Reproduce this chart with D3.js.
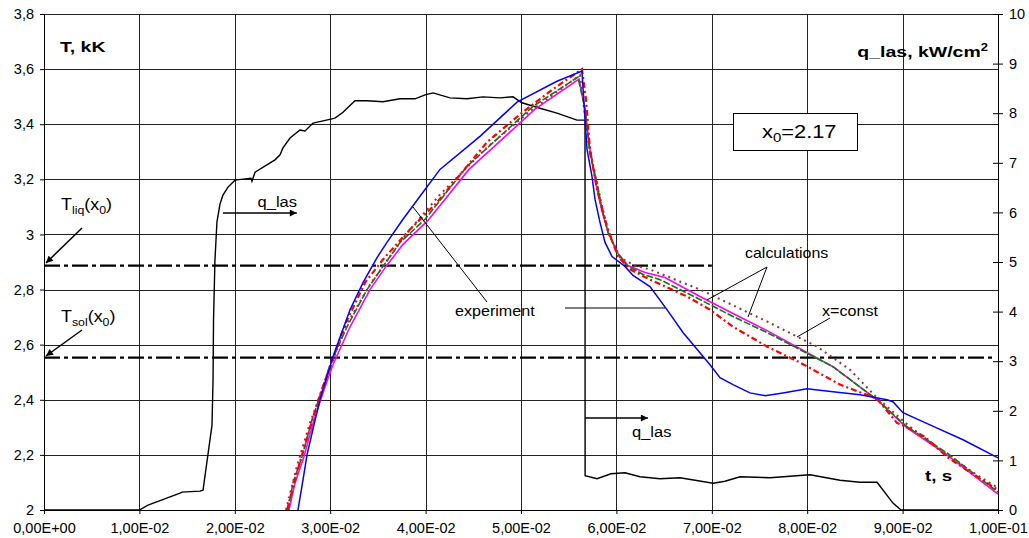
<!DOCTYPE html>
<html>
<head>
<meta charset="utf-8">
<script src="https://cdn.jsdelivr.net/npm/d3@7"></script>
<style>
	body { margin: 0; background: #fff; }
	svg { display: block; font-family: "Liberation Sans", Arial, sans-serif; }
</style>
</head>
<body>
<div class="chart"></div>
<script>
// t in s, T in kK, q in kW/cm2
const tTicks = [0, 0.01, 0.02, 0.03, 0.04, 0.05, 0.06, 0.07, 0.08, 0.09, 0.1];
const TTicks = [2, 2.2, 2.4, 2.6, 2.8, 3, 3.2, 3.4, 3.6, 3.8];
const qTicks = [0, 1, 2, 3, 4, 5, 6, 7, 8, 9, 10];
const Tliq = 2.887;
const Tsol = 2.553;

const experiment = [
	[0.02662, 2.0], [0.02715, 2.109], [0.02757, 2.2], [0.0283, 2.309], [0.02893, 2.4],
	[0.03029, 2.556], [0.03208, 2.727], [0.03344, 2.825], [0.03491, 2.916], [0.03595, 2.971],
	[0.03763, 3.055], [0.03955, 3.145], [0.04151, 3.236], [0.0457, 3.356], [0.04958, 3.48],
	[0.05377, 3.556], [0.05639, 3.593], [0.05671, 3.418], [0.05692, 3.309], [0.05744, 3.211],
	[0.05776, 3.127], [0.05828, 3.044], [0.05881, 2.971], [0.05954, 2.92], [0.0609, 2.884],
	[0.06174, 2.851], [0.06352, 2.811], [0.0653, 2.727], [0.06698, 2.644], [0.06876, 2.571],
	[0.06981, 2.527], [0.07086, 2.48], [0.07222, 2.455], [0.074, 2.425], [0.07558, 2.415],
	[0.07746, 2.425], [0.07998, 2.44], [0.0827, 2.429], [0.08553, 2.418], [0.08836, 2.4],
	[0.08899, 2.393], [0.09004, 2.353], [0.09287, 2.309], [0.09633, 2.255], [0.1, 2.189]
];
const calcGreen = [
	[0.02558, 2.0], [0.0261, 2.098], [0.02704, 2.193], [0.02809, 2.327], [0.02914, 2.436],
	[0.02998, 2.527], [0.03176, 2.665], [0.03386, 2.8], [0.03553, 2.884], [0.03732, 2.971],
	[0.03994, 3.055], [0.04434, 3.247], [0.0478, 3.356], [0.05126, 3.465], [0.05597, 3.571],
	[0.05671, 3.455], [0.05723, 3.291], [0.05797, 3.189], [0.05849, 3.091], [0.05912, 3.007],
	[0.06006, 2.935], [0.06111, 2.887], [0.06279, 2.855], [0.06457, 2.836], [0.06876, 2.764],
	[0.07222, 2.702], [0.07579, 2.644], [0.07925, 2.582], [0.0827, 2.52], [0.08732, 2.4],
	[0.09046, 2.302], [0.09465, 2.207], [0.1, 2.065]
];
const calcMagenta = [
	[0.02568, 2.0], [0.02631, 2.098], [0.02725, 2.193], [0.0283, 2.327], [0.02935, 2.436],
	[0.03029, 2.527], [0.03208, 2.665], [0.03417, 2.8], [0.03585, 2.884], [0.03763, 2.964],
	[0.04025, 3.051], [0.04455, 3.236], [0.04801, 3.345], [0.05147, 3.455], [0.05608, 3.564],
	[0.05671, 3.455], [0.05723, 3.309], [0.05786, 3.182], [0.05849, 3.084], [0.05922, 3.0],
	[0.06017, 2.931], [0.06122, 2.887], [0.063, 2.862], [0.06509, 2.844], [0.06876, 2.775],
	[0.07222, 2.713], [0.07579, 2.651], [0.07925, 2.585], [0.0827, 2.52], [0.08732, 2.4],
	[0.09046, 2.298], [0.09465, 2.2], [0.1, 2.058]
];
const calcRed = [
	[0.02547, 2.0], [0.02683, 2.175], [0.02893, 2.418], [0.03155, 2.673], [0.03365, 2.825],
	[0.03553, 2.909], [0.03805, 3.007], [0.04119, 3.116], [0.04644, 3.335], [0.0499, 3.436],
	[0.05335, 3.527], [0.05639, 3.6], [0.05681, 3.491], [0.05723, 3.309], [0.05797, 3.164],
	[0.05901, 3.029], [0.06017, 2.92], [0.06143, 2.873], [0.06352, 2.836], [0.0674, 2.775],
	[0.06981, 2.727], [0.07222, 2.665], [0.07579, 2.593], [0.07925, 2.535], [0.08344, 2.455],
	[0.08732, 2.404], [0.08941, 2.316], [0.09078, 2.295], [0.09235, 2.265], [0.09465, 2.193],
	[0.0978, 2.12], [0.1, 2.073]
];
const calcBrown = [
	[0.02537, 2.0], [0.02652, 2.16], [0.02788, 2.316], [0.02945, 2.465], [0.03155, 2.662],
	[0.03417, 2.818], [0.03784, 2.996], [0.04151, 3.145], [0.04644, 3.316], [0.05094, 3.447],
	[0.05618, 3.578], [0.05702, 3.345], [0.05797, 3.182], [0.05912, 3.011], [0.06038, 2.916],
	[0.06195, 2.887], [0.06352, 2.873], [0.06876, 2.8], [0.07579, 2.684], [0.08103, 2.593],
	[0.08449, 2.509], [0.08732, 2.407], [0.09078, 2.302], [0.09465, 2.2], [0.0978, 2.127],
	[0.1, 2.08]
];
const qLas = [
	[0, 0], [0.01, 0], [0.0109, 0.1], [0.01426, 0.34], [0.01447, 0.36], [0.01635, 0.38],
	[0.01667, 0.4], [0.01761, 1.71], [0.01772, 2.62], [0.01777, 3.83], [0.01792, 5.04],
	[0.01813, 5.81], [0.01845, 6.17], [0.01876, 6.35], [0.01929, 6.51], [0.02002, 6.65],
	[0.0217, 6.69], [0.0218, 6.63], [0.02212, 6.81], [0.02421, 7.06], [0.02474, 7.16],
	[0.02505, 7.3], [0.02579, 7.5], [0.02683, 7.66], [0.02736, 7.64], [0.0282, 7.8],
	[0.02914, 7.84], [0.0305, 7.9], [0.03134, 8.02], [0.0326, 8.25], [0.03386, 8.25],
	[0.03553, 8.23], [0.03732, 8.29], [0.03889, 8.29], [0.03994, 8.37], [0.04078, 8.41],
	[0.04256, 8.31], [0.04434, 8.29], [0.04602, 8.33], [0.0478, 8.31], [0.04916, 8.33],
	[0.0501, 8.21], [0.05199, 8.1], [0.05377, 8.0], [0.05587, 7.86], [0.05671, 7.86],
	[0.05672, 0.69], [0.05797, 0.63], [0.05943, 0.73], [0.0609, 0.75], [0.06247, 0.67],
	[0.06457, 0.63], [0.06667, 0.65], [0.07013, 0.54], [0.07138, 0.58], [0.07296, 0.67],
	[0.0761, 0.65], [0.08029, 0.71], [0.08344, 0.6], [0.08553, 0.56], [0.08732, 0.56],
	[0.08899, 0.14], [0.08983, 0], [0.1, 0]
];

const width = 1029;
const height = 538;
const margin = { top: 14, right: 31, bottom: 28, left: 44 };

const x = d3.scaleLinear().domain([0, 0.1]).range([margin.left, width - margin.right]);
const y = d3.scaleLinear().domain([2, 3.8]).range([height - margin.bottom, margin.top]);
const yq = d3.scaleLinear().domain([0, 10]).range([height - margin.bottom, margin.top]);

const svg = d3.create("svg").attr("width", width).attr("height", height);

svg.append("defs")
	.append("marker")
	.attr("id", "arr")
	.attr("viewBox", "0 0 10 10")
	.attr("refX", 10)
	.attr("refY", 5)
	.attr("markerWidth", 8)
	.attr("markerHeight", 7)
	.attr("markerUnits", "userSpaceOnUse")
	.attr("orient", "auto")
	.append("path")
	.attr("d", "M0,0L10,5L0,10z")
	.attr("fill", "#000");

const fmtT = (d) => (d === 2 || d === 3 ? String(d) : d3.format(".1f")(d).replace(".", ","));
const fmtX = (d) => d.toExponential(2).replace(".", ",").replace(/e([+-])(\d)$/, "E$10$2").toUpperCase();

// grid
const grid = svg.append("g").attr("stroke", "#222").attr("stroke-width", 1);
grid.selectAll("line.h")
	.data(TTicks)
	.join("line")
	.attr("x1", x(0))
	.attr("x2", x(0.1))
	.attr("y1", (d) => Math.round(y(d)) + 0.5)
	.attr("y2", (d) => Math.round(y(d)) + 0.5);
grid.selectAll("line.v")
	.data(tTicks)
	.join("line")
	.attr("x1", (d) => Math.round(x(d)) + 0.5)
	.attr("x2", (d) => Math.round(x(d)) + 0.5)
	.attr("y1", y(3.8))
	.attr("y2", y(2));

// axes
const axL = svg.append("g")
	.attr("transform", `translate(${x(0)},0)`)
	.call(d3.axisLeft(y).tickValues(TTicks).tickFormat(fmtT).tickSize(4).tickPadding(6));
const axB = svg.append("g")
	.attr("transform", `translate(0,${y(2)})`)
	.call(d3.axisBottom(x).tickValues(tTicks).tickFormat(fmtX).tickSize(4).tickPadding(9));
const axR = svg.append("g")
	.attr("transform", `translate(${x(0.1)},0)`)
	.call(d3.axisRight(yq).tickValues(qTicks).tickSize(5).tickPadding(6));
axR.selectAll(".tick line").attr("x1", -5);
[axL, axB, axR].forEach((a) => {
	a.selectAll("text").attr("font-size", 14.5).attr("fill", "#000").attr("font-family", "Liberation Sans, Arial, sans-serif");
	a.select(".domain").attr("stroke", "#000");
	a.selectAll(".tick line").attr("stroke", "#000");
});

// reference dash-dot lines
const refDash = "16,4,4,4";
svg.append("line")
	.attr("x1", x(0)).attr("x2", x(0.07))
	.attr("y1", y(Tliq)).attr("y2", y(Tliq))
	.attr("stroke", "#000").attr("stroke-width", 2.4).attr("stroke-dasharray", refDash);
svg.append("line")
	.attr("x1", x(0)).attr("x2", x(0.0995))
	.attr("y1", y(Tsol)).attr("y2", y(Tsol))
	.attr("stroke", "#000").attr("stroke-width", 2.4).attr("stroke-dasharray", refDash);

// curves
const lineT = d3.line().x((d) => x(d[0])).y((d) => y(d[1]));
const lineQ = d3.line().x((d) => x(d[0])).y((d) => yq(d[1]));

svg.append("path").datum(qLas).attr("d", lineQ)
	.attr("fill", "none").attr("stroke", "#000").attr("stroke-width", 1.4);

const series = [
	{ data: calcMagenta, color: "#ff00ff", w: 1.6, dash: null },
	{ data: calcGreen, color: "#008000", w: 1.6, dash: "7,2" },
	{ data: calcBrown, color: "#993333", w: 2, dash: "2,4" },
	{ data: calcRed, color: "#ff0000", w: 2.2, dash: "6,3,2,3" },
	{ data: experiment, color: "#0000ff", w: 1.5, dash: null }
];
svg.append("g")
	.selectAll("path")
	.data(series)
	.join("path")
	.attr("d", (d) => lineT(d.data))
	.attr("fill", "none")
	.attr("stroke", (d) => d.color)
	.attr("stroke-width", (d) => d.w)
	.attr("stroke-dasharray", (d) => d.dash);

// annotations
const ann = svg.append("g").attr("fill", "#000");
const label = (px, py, size, sx, anchor) =>
	ann.append("text")
		.attr("transform", `translate(${px},${py}) scale(${sx},1)`)
		.attr("font-size", size)
		.attr("text-anchor", anchor || "start");
const arrow = (x1, y1, x2, y2, head) => {
	const l = svg.append("line")
		.attr("x1", x1).attr("y1", y1).attr("x2", x2).attr("y2", y2)
		.attr("stroke", "#000").attr("stroke-width", head ? 1.5 : 1);
	if (head) l.attr("marker-end", "url(#arr)");
};
const withSub = (t, parts, small) => {
	parts.forEach(([s, isSub]) => {
		const sp = t.append("tspan").text(s);
		if (isSub === 1) sp.attr("font-size", small).attr("dy", 4);
		if (isSub === -1) sp.attr("dy", -4);
	});
};

label(60, 52, 15, 1.3).attr("font-weight", "bold").text("T, kK");
label(988, 57, 15, 1.3, "end").attr("font-weight", "bold")
	.call((t) => {
		t.append("tspan").text("q_las, kW/cm");
		t.append("tspan").attr("font-size", 10).attr("dy", -6).text("2");
	});
label(925, 481, 15, 1.25).attr("font-weight", "bold").text("t, s");

label(61, 210, 16, 1.12).call((t) => withSub(t, [["T", 0], ["liq", 1], ["(x", -1], ["0", 1], [")", -1]], 11));
label(61, 322, 16, 1.12).call((t) => withSub(t, [["T", 0], ["sol", 1], ["(x", -1], ["0", 1], [")", -1]], 11));
arrow(82, 228, 46, 263, true);
arrow(82, 330, 46, 356, true);

arrow(x(0.01876), 213, x(0.0265), 213, true);
label(297, 207, 15, 1.1, "end").text("q_las");
arrow(x(0.05672), 418, x(0.0633), 418, true);
label(632, 437, 15, 1.1).text("q_las");

label(455, 316, 14, 1.15).text("experiment");
arrow(413, 207, 487, 302, false);
arrow(565, 308, 665, 308, false);

label(745, 258, 14, 1.14).text("calculations");
arrow(767, 267, 707, 300, false);
arrow(767, 267, 748, 317, false);
label(822, 316, 14, 1.15).text("x=const");
arrow(830, 318, 797, 337, false);

svg.append("rect").attr("x", 733.5).attr("y", 113.5).attr("width", 124).attr("height", 37)
	.attr("fill", "#fff").attr("stroke", "#000").attr("stroke-width", 1);
svg.append("text").attr("transform", "translate(762,138) scale(1.15,1)").attr("font-size", 19)
	.call((t) => withSub(t, [["x", 0], ["0", 1], ["=2.17", -1]], 13));

d3.select(".chart").append(() => svg.node());
</script>
</body>
</html>
